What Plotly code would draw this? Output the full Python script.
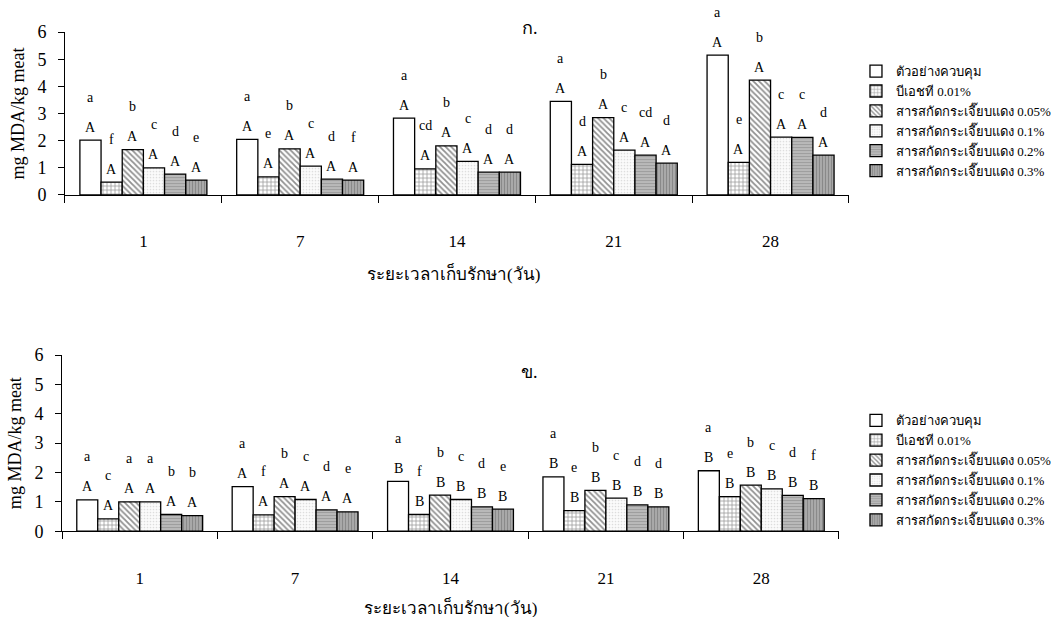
import plotly.graph_objects as go

days = ["1", "7", "14", "21", "28"]
series_names = [
    "ตัวอย่างควบคุม",
    "บีเอชที 0.01%",
    "สารสกัดกระเจี๊ยบแดง 0.05%",
    "สารสกัดกระเจี๊ยบแดง 0.1%",
    "สารสกัดกระเจี๊ยบแดง 0.2%",
    "สารสกัดกระเจี๊ยบแดง 0.3%",
]

# Panel ก. values (mg MDA/kg meat), one list per series across days
top_values = [
    [2.02, 2.05, 2.83, 3.45, 5.15],
    [0.47, 0.67, 0.96, 1.13, 1.20],
    [1.67, 1.70, 1.81, 2.85, 4.23],
    [1.00, 1.06, 1.24, 1.65, 2.13],
    [0.77, 0.58, 0.84, 1.47, 2.12],
    [0.55, 0.55, 0.84, 1.17, 1.47],
]
# Panel ข. values
bottom_values = [
    [1.07, 1.52, 1.70, 1.85, 2.06],
    [0.42, 0.56, 0.57, 0.70, 1.18],
    [1.00, 1.18, 1.23, 1.39, 1.57],
    [1.00, 1.08, 1.08, 1.13, 1.44],
    [0.57, 0.73, 0.83, 0.90, 1.22],
    [0.53, 0.66, 0.75, 0.83, 1.11],
]

# significance letters: lowercase (within day) per day, uppercase per day
top_lower = [
    ["a", "f", "b", "c", "d", "e"],
    ["a", "e", "b", "c", "d", "f"],
    ["a", "cd", "b", "c", "d", "d"],
    ["a", "d", "b", "c", "cd", "d"],
    ["a", "e", "b", "c", "c", "d"],
]
top_upper = ["A", "A", "A", "A", "A"]
bottom_lower = [
    ["a", "c", "a", "a", "b", "b"],
    ["a", "f", "b", "c", "d", "e"],
    ["a", "f", "b", "c", "d", "e"],
    ["a", "e", "b", "c", "d", "d"],
    ["a", "e", "b", "c", "d", "f"],
]
bottom_upper = ["A", "A", "B", "B", "B"]

panel_titles = ["ก.", "ข."]
x_title = "ระยะเวลาเก็บรักษา(วัน)"
y_title = "mg MDA/kg meat"

styles = [
    dict(color="white", shape="", fg="black", size=4, sol=0.3),
    dict(color="white", shape="+", fg="#333333", size=4, sol=0.35),
    dict(color="white", shape="\\", fg="#222222", size=4, sol=0.45),
    dict(color="#fbfbfb", shape=".", fg="#bdbdbd", size=3, sol=0.25),
    dict(color="#b9b9b9", shape="-", fg="#7a7a7a", size=3, sol=0.3),
    dict(color="#a9a9a9", shape="|", fg="#6a6a6a", size=3, sol=0.35),
]

SERIF = "Liberation Serif, Times New Roman, serif"
THAI = "Liberation Serif, Noto Sans, DejaVu Sans, serif"

bargap = 0.19
n = len(series_names)
xpos = list(range(len(days)))

fig = go.Figure()
annotations = []

panels = [
    (top_values, top_lower, top_upper, "x", "y", "legend"),
    (bottom_values, bottom_lower, bottom_upper, "x2", "y2", "legend2"),
]

for vals, lows, ups, xa, ya, lg in panels:
    for i, name in enumerate(series_names):
        st = styles[i]
        fig.add_trace(go.Bar(
            x=xpos, y=vals[i], name=name, xaxis=xa, yaxis=ya, legend=lg,
            marker=dict(color=st["color"], line=dict(color="black", width=1.3),
                        pattern=dict(shape=st["shape"], fgcolor=st["fg"], size=st["size"],
                                     solidity=st["sol"], fillmode="overlay")),
            hoverinfo="skip",
        ))
    w = (1 - bargap) / n
    for j in range(len(days)):
        for i in range(n):
            xc = j + (i - (n - 1) / 2) * w
            v = vals[i][j]
            annotations.append(dict(x=xc, y=v, xref=xa, yref=ya, text=ups[j],
                                    showarrow=False, yanchor="middle", yshift=13,
                                    font=dict(family=SERIF, size=14, color="black")))
            annotations.append(dict(x=xc, y=v, xref=xa, yref=ya, text=lows[j][i],
                                    showarrow=False, yanchor="middle", yshift=43,
                                    font=dict(family=SERIF, size=14, color="black")))

# panel titles and x axis titles
annotations.append(dict(x=0.499, y=0.955, xref="paper", yref="paper", text=panel_titles[0],
                        showarrow=False, yanchor="middle",
                        font=dict(family=THAI, size=18, color="black")))
annotations.append(dict(x=0.499, y=0.397, xref="paper", yref="paper", text=panel_titles[1],
                        showarrow=False, yanchor="middle",
                        font=dict(family=THAI, size=18, color="black")))
annotations.append(dict(x=0.427, y=0.556, xref="paper", yref="paper", text=x_title,
                        showarrow=False, yanchor="middle",
                        font=dict(family=THAI, size=17, color="black")))
annotations.append(dict(x=0.424, y=0.0146, xref="paper", yref="paper", text=x_title,
                        showarrow=False, yanchor="middle",
                        font=dict(family=THAI, size=17, color="black")))

def xaxis(domain, anchor):
    return dict(domain=domain, anchor=anchor, range=[-0.5, 4.5], tickmode="array",
                tickvals=xpos, ticktext=days, ticks="", showline=True, linecolor="black",
                linewidth=1, showgrid=False, zeroline=False, ticklabelstandoff=31,
                automargin=False,
                tickfont=dict(family=SERIF, size=17, color="black"),
                minor=dict(tickmode="array", tickvals=[-0.5, 0.5, 1.5, 2.5, 3.5, 4.5],
                           ticks="outside", ticklen=7, tickcolor="black", showgrid=False),
                fixedrange=True)

def yaxis(domain, anchor):
    return dict(domain=domain, anchor=anchor, range=[0, 6], dtick=1, ticks="outside",
                ticklen=6, tickcolor="black", showline=True, linecolor="black", linewidth=1,
                showgrid=False, zeroline=False, ticklabelstandoff=8, automargin=False,
                tickfont=dict(family=SERIF, size=18, color="black"),
                title=dict(text=y_title, font=dict(family=SERIF, size=18, color="black"), standoff=8),
                fixedrange=True)

legend_common = dict(font=dict(family=THAI, size=13, color="black"), bgcolor="rgba(0,0,0,0)",
                     itemwidth=30, tracegroupgap=0, xanchor="left", yanchor="top",
                     itemclick=False, itemdoubleclick=False)

fig.update_layout(
    width=1062, height=617, margin=dict(l=0, r=0, t=0, b=0, autoexpand=False),
    paper_bgcolor="white", plot_bgcolor="white",
    barmode="group", bargap=bargap, bargroupgap=0,
    xaxis=xaxis([0.0612, 0.7994], "y"),
    yaxis=yaxis([0.684, 0.948], "x"),
    xaxis2=xaxis([0.0584, 0.790], "y2"),
    yaxis2=yaxis([0.139, 0.4246], "x2"),
    legend=dict(x=0.806, y=0.909, **legend_common),
    legend2=dict(x=0.806, y=0.343, **legend_common),
    annotations=annotations,
    showlegend=True,
)

fig.write_html("out.html")
